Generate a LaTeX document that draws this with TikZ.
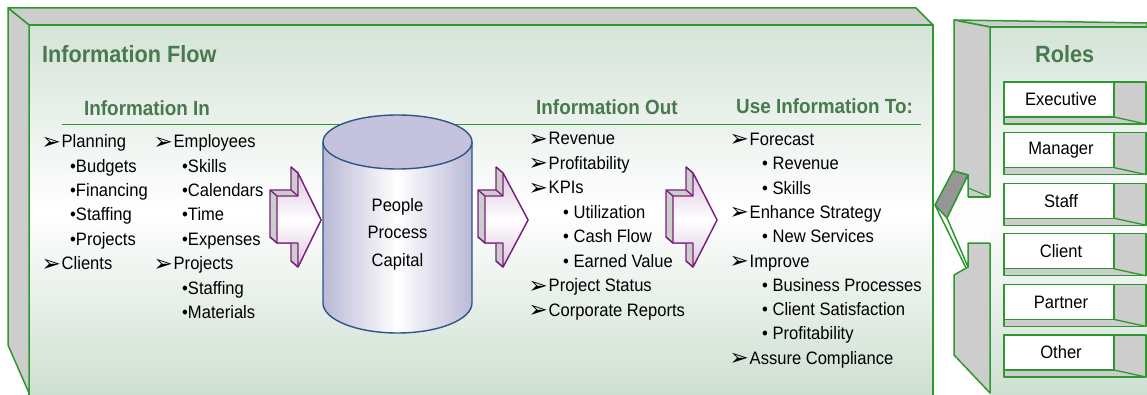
\documentclass[tikz,border=0pt]{standalone}
\usepackage{fontspec}
\setmainfont{Liberation Sans}[FakeStretch=0.92]
\newfontfamily\glyphfont{DejaVu Sans}
\newcommand\itemfont{\fontsize{18}{20}\selectfont}
\newcommand\headfont{\bfseries\fontsize{20.5}{24}\selectfont}
\newcommand\titlefont{\bfseries\fontsize{23.5}{26}\selectfont}

\definecolor{framegreen}{RGB}{46,152,46}
\definecolor{headgreen}{RGB}{72,122,78}
\definecolor{bevel}{RGB}{205,205,205}
\definecolor{bevelDark}{RGB}{150,150,150}
\definecolor{panelTop}{RGB}{212,227,215}
\definecolor{panelBot}{RGB}{206,223,209}
\definecolor{arrowLine}{RGB}{122,32,122}
\definecolor{arrowPink}{RGB}{222,198,224}
\definecolor{cylEdge}{RGB}{186,184,214}
\definecolor{cylTop}{RGB}{196,194,221}
\definecolor{cylLine}{RGB}{44,86,138}

% list rows: arrowhead marker + text, or bullet text
\newcommand\arrowrow[4]{%
  \node[item] (#1) at (#2+14.5,#3) {#4};
  \node[glyph] (#1g) at (#2+14,#3+1.5) {➢};}
\newcommand\dotrow[4]{\node[item] (#1) at (#2,#3) {#4};}

% 3D block arrow: #1 shaft left x, #2 head base x, #3 tip x
\newcommand\blockarrow[3]{%
  \pgfmathsetmacro\dx{-7}\pgfmathsetmacro\dy{-6}
  \filldraw[arrowside]
    (#2+\dx,173+\dy) -- (#2,173) -- (#3,220) -- (#2,267) -- (#2+\dx,267+\dy)
    -- (#2+\dx,243) -- (#1,243) -- (#1+\dx,243+\dy) -- (#1+\dx,196+\dy)
    -- (#2+\dx,196+\dy) -- cycle;
  \shade[top color=arrowPink, bottom color=arrowPink, middle color=white]
    (#1,196) -- (#2,196) -- (#2,173) -- (#3,220) -- (#2,267) -- (#2,243) -- (#1,243) -- cycle;
  \draw[arrowedge]
    (#1,196) -- (#2,196) -- (#2,173) -- (#3,220) -- (#2,267) -- (#2,243) -- (#1,243) -- cycle;
  \draw[arrowedge] (#1,196) -- ++(\dx,\dy) (#2,196) -- ++(\dx,\dy)
    (#2,173) -- ++(\dx,\dy) (#1,243) -- ++(\dx,\dy) (#2,267) -- ++(\dx,\dy);}

\begin{document}
\begin{tikzpicture}[x=1pt,y=-1pt,
  item/.style={anchor=base west, inner sep=0pt, font=\itemfont},
  glyph/.style={anchor=base east, inner sep=0pt, font=\glyphfont\fontsize{23}{23}\selectfont},
  heading/.style={anchor=base west, inner sep=0pt, font=\headfont, text=headgreen},
  title/.style={anchor=base west, inner sep=0pt, font=\titlefont, text=headgreen},
  frame/.style={draw=framegreen, line width=1.5pt, line join=round},
  bevelface/.style={frame, fill=bevel},
  arrowside/.style={fill=bevel, draw=arrowLine, line width=1.3pt, line join=round},
  arrowedge/.style={draw=arrowLine, line width=1.3pt, line join=round},
  cylline/.style={draw=cylLine, line width=1.4pt},
  rolebox/.style={frame, line width=1.3pt}]

\useasboundingbox (0,0) rectangle (1147,395);
\fill[white] (0,0) rectangle (1147,395);

% ---------- information flow panel ----------
\shade[top color=panelTop, bottom color=panelBot, middle color=white]
  (29,25) rectangle (933,395);
\draw[frame] (29,395) -- (29,25) -- (933,25) -- (933,395);
\filldraw[bevelface] (8,8) -- (916,8) -- (933,25) -- (29,25) -- cycle;
\filldraw[bevelface] (8,8) -- (29,25) -- (29,393) -- (8,345) -- cycle;

\node[title] (flowtitle) at (42,63) {Information Flow};

\node[heading] (hin)  at (84,116)  {Information In};
\node[heading] (hout) at (536,115) {Information Out};
\node[heading] (huse) at (736,114) {Use Information To:};
\draw[draw=framegreen, line width=1.5pt] (62,124.5) -- (921,124.5);

% information in, first column
\arrowrow{pl}{47}{147.8}{Planning}
\dotrow{bu}{70}{172.2}{•Budgets}
\dotrow{fi}{70}{196.6}{•Financing}
\dotrow{st}{70}{221.0}{•Staffing}
\dotrow{pr}{70}{245.4}{•Projects}
\arrowrow{cl}{47}{269.8}{Clients}

% information in, second column
\arrowrow{em}{159}{147.8}{Employees}
\dotrow{sk}{182}{172.2}{•Skills}
\dotrow{ca}{182}{196.6}{•Calendars}
\dotrow{ti}{182}{221.0}{•Time}
\dotrow{ex}{182}{245.4}{•Expenses}
\arrowrow{pj}{159}{269.8}{Projects}
\dotrow{sf}{182}{294.2}{•Staffing}
\dotrow{ma}{182}{318.6}{•Materials}

% cylinder
\shade[left color=cylEdge, right color=cylEdge, middle color=white]
  (323,142) -- (323,303) .. controls (323,319.6) and (356.4,333) .. (397.5,333)
  .. controls (438.6,333) and (472,319.6) .. (472,303) -- (472,142) -- cycle;
\draw[cylline] (323,142) -- (323,303) .. controls (323,319.6) and (356.4,333) .. (397.5,333)
  .. controls (438.6,333) and (472,319.6) .. (472,303) -- (472,142);
\filldraw[cylline, fill=cylTop] (397.5,142) ellipse [x radius=74.5, y radius=27];
\node[font=\fontsize{18}{27.5}\selectfont, align=center, inner sep=0pt] (cyl)
  at (397.5,234) {People\\Process\\Capital};

% block arrows
\blockarrow{277}{298}{321}
\blockarrow{485}{503}{528}
\blockarrow{673}{693}{717}

% information out
\arrowrow{orv}{534}{144.8}{Revenue}
\arrowrow{opr}{534}{169.3}{Profitability}
\arrowrow{okp}{534}{193.8}{KPIs}
\dotrow{out}{563}{218.3}{• Utilization}
\dotrow{ocf}{563}{242.8}{• Cash Flow}
\dotrow{oev}{563}{267.3}{• Earned Value}
\arrowrow{ops}{534}{291.8}{Project Status}
\arrowrow{ocr}{534}{316.3}{Corporate Reports}

% use information to
\arrowrow{ufc}{735}{145.5}{Forecast}
\dotrow{urv}{762}{169.8}{• Revenue}
\dotrow{usk}{762}{194.1}{• Skills}
\arrowrow{ues}{735}{218.4}{Enhance Strategy}
\dotrow{uns}{762}{242.7}{• New Services}
\arrowrow{uim}{735}{267.0}{Improve}
\dotrow{ubp}{762}{291.3}{• Business Processes}
\dotrow{ucs}{762}{315.6}{• Client Satisfaction}
\dotrow{upf}{762}{339.9}{• Profitability}
\arrowrow{uac}{735}{364.2}{Assure Compliance}

% ---------- roles panel ----------
\shade[top color=panelTop, bottom color=panelBot, middle color=white]
  (990,27) rectangle (1147,395);
\draw[frame] (990,27) -- (1147,27);
\filldraw[bevelface] (954,20) -- (1147,23) -- (1147,27) -- (990,27) -- cycle;
% side face, upper part down to the arrow
\filldraw[bevelface] (954,20) -- (990,27) -- (990,197) -- (968,197) -- (968,175) -- (954,171) -- cycle;
\draw[frame, line width=1.1pt] (968,188) -- (990,197);
% side face, lower part below the arrow
\filldraw[bevelface] (968,267) -- (968,243) -- (990,243) -- (990,393) -- (954,355) -- (954,275) -- cycle;
% arrow leaving the roles panel
\filldraw[frame, fill=bevelDark] (953,171) -- (968,175) -- (947,218) -- (935,205) -- cycle;
\fill[white!93!panelTop] (968,175) -- (947,218) -- (968,267) -- (968,243) -- (991,243)
  -- (991,197) -- (968,197) -- cycle;
\draw[frame] (968,197) -- (968,175) -- (947,218) -- (968,267) -- (968,243) -- (990,243);
\draw[frame] (935,205) -- (966,268);
\draw[frame] (968,197) -- (990,197);

\node[title] (roles) at (1035,63) {Roles};

\foreach \lab [count=\i] in {Executive,Manager,Staff,Client,Partner,Other}{
  \pgfmathsetmacro\yy{82+50.6*(\i-1)}
  \filldraw[rolebox, fill=bevel] (1004,\yy) rectangle (1146,\yy+42);
  \filldraw[rolebox, fill=white] (1004,\yy) rectangle (1114,\yy+35);
  \draw[rolebox] (1114,\yy+35) -- (1146,\yy+42);
  \node[font=\itemfont, inner sep=0pt] (role\i) at (1061,\yy+17.5) {\lab};
}
\end{tikzpicture}
\end{document}
